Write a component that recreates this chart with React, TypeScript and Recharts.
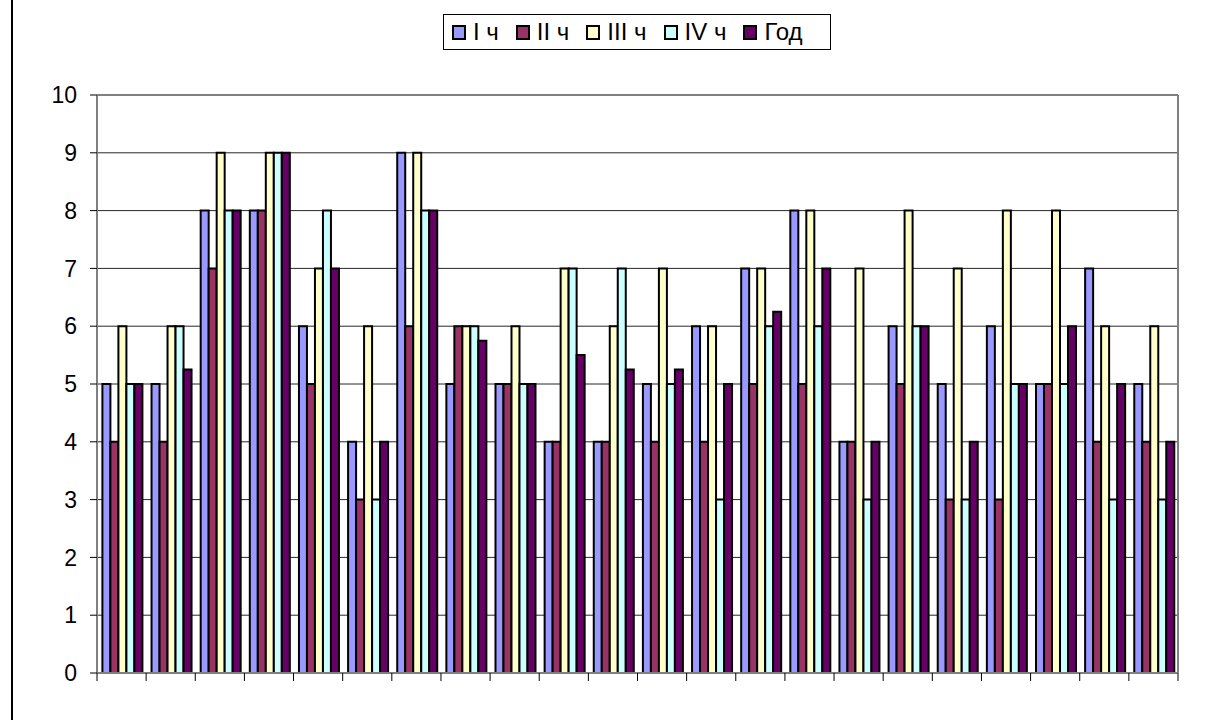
import { Bar, BarChart, CartesianGrid, ReferenceLine, XAxis, YAxis } from "recharts"

const categories = ["1", "2", "3", "4", "5", "6", "7", "8", "9", "10", "11", "12", "13", "14", "15", "16", "17", "18", "19", "20", "21", "22"]
const part1 = [5, 5, 8, 8, 6, 4, 9, 5, 5, 4, 4, 5, 6, 7, 8, 4, 6, 5, 6, 5, 7, 5]
const part2 = [4, 4, 7, 8, 5, 3, 6, 6, 5, 4, 4, 4, 4, 5, 5, 4, 5, 3, 3, 5, 4, 4]
const part3 = [6, 6, 9, 9, 7, 6, 9, 6, 6, 7, 6, 7, 6, 7, 8, 7, 8, 7, 8, 8, 6, 6]
const part4 = [5, 6, 8, 9, 8, 3, 8, 6, 5, 7, 7, 5, 3, 6, 6, 3, 6, 3, 5, 5, 3, 3]
const year = [5, 5.25, 8, 9, 7, 4, 8, 5.75, 5, 5.5, 5.25, 5.25, 5, 6.25, 7, 4, 6, 4, 5, 6, 5, 4]
const yTicks = [0, 1, 2, 3, 4, 5, 6, 7, 8, 9, 10]

const series = [
  { key: "p1", name: "I ч", color: "#9999FF" },
  { key: "p2", name: "II ч", color: "#993366" },
  { key: "p3", name: "III ч", color: "#FFFFCC" },
  { key: "p4", name: "IV ч", color: "#CCFFFF" },
  { key: "y", name: "Год", color: "#660066" },
]

const data = categories.map((c, i) => ({
  name: c,
  p1: part1[i],
  p2: part2[i],
  p3: part3[i],
  p4: part4[i],
  y: year[i],
}))

const W = 1208
const H = 720
const xAxisHeight = 20
const margin = { top: 95, right: 30, bottom: 47 - xAxisHeight, left: 17 }
const yAxisWidth = 80
const band = (W - margin.left - margin.right - yAxisWidth) / categories.length

const font = "'Liberation Sans', Arial, sans-serif"

// tick marks sit on the borders between categories, like in Excel
function BoundaryTick(props: any) {
  const { x, y, index } = props
  const right = x + band / 2
  const left = x - band / 2
  return (
    <g>
      {index === 0 && <line x1={left} x2={left} y1={y} y2={y + 8} stroke="#000" />}
      <line x1={right} x2={right} y1={y} y2={y + 8} stroke="#000" />
    </g>
  )
}

function LegendBox() {
  return (
    <div
      style={{
        position: "absolute",
        left: 443,
        top: 14,
        width: 388,
        height: 36,
        boxSizing: "border-box",
        border: "1px solid #000",
        display: "flex",
        alignItems: "center",
        paddingLeft: 8,
        fontFamily: font,
        fontSize: 24,
        background: "#fff",
      }}
    >
      {series.map((s) => (
        <div key={s.key} style={{ display: "flex", alignItems: "center", marginRight: 17 }}>
          <span
            style={{
              display: "inline-block",
              width: 10,
              height: 11,
              border: "2px solid #000",
              background: s.color,
              marginRight: 7,
            }}
          />
          <span style={{ lineHeight: "24px" }}>{s.name}</span>
        </div>
      ))}
    </div>
  )
}

export default function App() {
  return (
    <div style={{ position: "absolute", left: 0, top: 0, width: W, height: H, background: "#fff" }}>
      <div style={{ position: "absolute", left: 11, top: 0, width: 2, height: H, background: "#000" }} />
      <BarChart width={W} height={H} data={data} margin={margin} barCategoryGap="11%" barGap={0}>
        <CartesianGrid vertical={false} stroke="#000" strokeOpacity={0.85} />
        <XAxis
          dataKey="name"
          height={xAxisHeight}
          tickLine={false}
          tickSize={0}
          tickMargin={0}
          interval={0}
          tick={<BoundaryTick />}
          axisLine={{ stroke: "#808080", strokeWidth: 2 }}
        />
        <YAxis
          domain={[0, 10]}
          ticks={yTicks}
          width={yAxisWidth}
          tickSize={7}
          tickMargin={13}
          interval={0}
          axisLine={{ stroke: "#808080", strokeWidth: 2 }}
          tickLine={{ stroke: "#000" }}
          tick={{ fill: "#000", fontSize: 23, fontFamily: font }}
        />
        <ReferenceLine y={10} stroke="#808080" strokeWidth={2} />
        <ReferenceLine x="22" position="end" stroke="#808080" strokeWidth={2} />
        {series.map((s) => (
          <Bar key={s.key} dataKey={s.key} name={s.name} fill={s.color} stroke="#000" strokeWidth={2} isAnimationActive={false} />
        ))}
      </BarChart>
      <LegendBox />
    </div>
  )
}
